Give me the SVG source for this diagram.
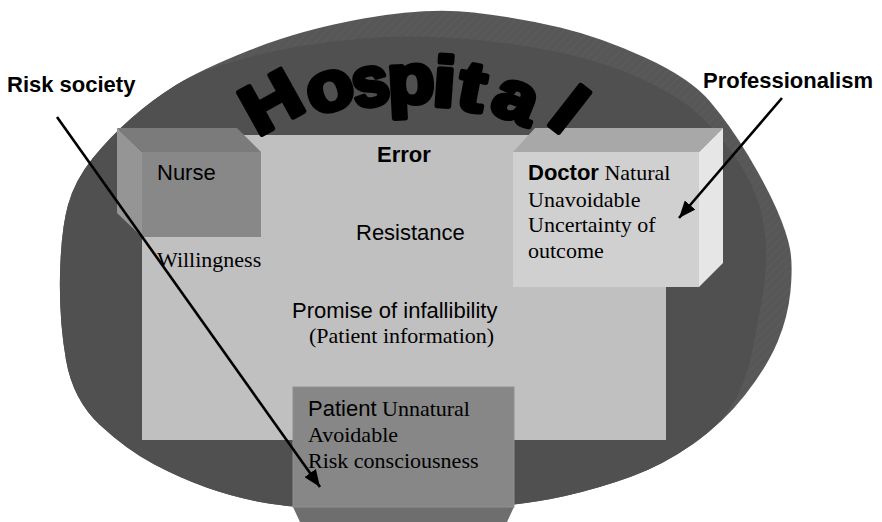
<svg xmlns="http://www.w3.org/2000/svg" width="882" height="522" viewBox="0 0 882 522">
  <style>
    .sans { font-family: "Liberation Sans", Arial, sans-serif; font-size: 22px; fill: #000; }
    .serif { font-family: "Liberation Serif", "Times New Roman", serif; font-size: 22px; fill: #000; }
    .bold { font-weight: bold; }
    .title { font-family: "Liberation Sans", Arial, sans-serif; font-weight: bold; font-size: 70px; fill: #000; stroke: #000; stroke-width: 5; stroke-linejoin: round; text-anchor: middle; }
    .conn { stroke: #000; stroke-width: 2.6; fill: none; marker-end: url(#arrow); }
  </style>
  <defs>
    <pattern id="rimHatch" width="6" height="6" patternUnits="userSpaceOnUse" patternTransform="rotate(45)">
      <rect width="6" height="6" fill="#575757"/>
      <line x1="0" y1="0" x2="0" y2="6" stroke="#5f5f5f" stroke-width="1.2"/>
    </pattern>
    <marker id="arrow" markerUnits="userSpaceOnUse" markerWidth="18" markerHeight="14" refX="17" refY="7" orient="auto">
      <path d="M0,0 L17,7 L0,14 Z" fill="#000"/>
    </marker>
  </defs>

  <!-- hospital disc: rim band plus top face -->
  <g id="hospital-disc">
    <path fill="url(#rimHatch)" d="M 363.5,18.5 Q 427,7 473.5,12.5 Q 520,18 560,27.5 Q 600,37 645,57.5 Q 690,78 710,101.5 Q 730,125 748.5,156 Q 767,187 777,210 Q 787,233 790,249 Q 793,265 790.5,291 Q 788,317 777.5,342 Q 767,367 745,395 Q 723,423 693,444 Q 663,465 631.5,476.5 Q 600,488 565,496 Q 530,504 475,508.5 Q 420,513 356.5,510.5 Q 293,508 263,502.5 Q 233,497 206.5,487.5 Q 180,478 153.5,464 Q 127,450 100,425 Q 73,400 66,360 Q 59,320 60,275 Q 61,230 68,205 Q 75,180 92.5,158.5 Q 110,137 131,118.5 Q 152,100 176,85 Q 200,70 250,50 Q 300,30 363.5,18.5 Z"/>
    <path fill="#505050" d="M 735.5,399 Q 723,423 693,444 Q 663,465 631.5,476.5 Q 600,488 565,496 Q 530,504 475,508.5 Q 420,513 356.5,510.5 Q 293,508 263,502.5 Q 233,497 206.5,487.5 Q 180,478 153.5,464 Q 127,450 100,425 Q 73,400 66,360 Q 59,320 60,275 Q 61,230 68,205 Q 75,180 92.5,158.5 Q 110,137 131,118.5 Q 152,100 176,85 Q 200,70 250,57 Q 300,44 363.5,38.5 Q 427,33 503.5,43 Q 580,53 630,74 Q 680,95 703.5,119 Q 727,143 742,167.5 Q 757,192 762,216 Q 767,240 766,262.5 Q 765,285 760.5,307.5 Q 756,330 752,352.5 Q 748,375 735.5,399 Z"/>
  </g>

  <!-- central error field -->
  <g id="error-field">
    <rect x="142" y="135" width="524" height="305" fill="#c0c0c0"/>
    <text class="sans bold" x="377" y="162">Error</text>
    <text class="sans" x="356" y="240">Resistance</text>
    <text class="sans" x="292" y="318">Promise of infallibility</text>
    <text class="serif" x="309" y="343">(Patient information)</text>
    <text class="serif" x="157" y="267">Willingness</text>
  </g>

  <!-- nurse block -->
  <g id="nurse">
    <polygon points="117,128 142,152 142,237 117,213" fill="#959595"/>
    <polygon points="117,128 237,128 261,152 142,152" fill="#7b7b7b"/>
    <rect x="142" y="152" width="119" height="85" fill="#888888"/>
    <text class="sans" x="157" y="180">Nurse</text>
  </g>

  <!-- doctor block -->
  <g id="doctor">
    <polygon points="535,128 723,128 699,152 513,152" fill="#a8a8a8"/>
    <polygon points="699,152 723,128 723,263 699,287" fill="#e6e6e6"/>
    <rect x="513" y="152" width="186" height="135" fill="#d0d0d0"/>
    <text x="528" y="180"><tspan class="sans bold">Doctor</tspan><tspan class="serif"> Natural</tspan></text>
    <text class="serif" x="528" y="207">Unavoidable</text>
    <text class="serif" x="528" y="232">Uncertainty of</text>
    <text class="serif" x="528" y="258">outcome</text>
  </g>

  <!-- patient block -->
  <g id="patient">
    <polygon points="293,507 514,507 507,522 300,522" fill="#6e6e6e"/>
    <rect x="293" y="387" width="221" height="120" fill="#878787" stroke="#8f8f8f" stroke-width="1"/>
    <text x="308" y="416"><tspan class="sans">Patient</tspan><tspan class="serif"> Unnatural</tspan></text>
    <text class="serif" x="308" y="442">Avoidable</text>
    <text class="serif" x="308" y="468">Risk consciousness</text>
  </g>

  <!-- arched title, one glyph per text so each can tilt along the arch -->
  <g id="hospital-title">
    <text class="title" transform="translate(283,123) rotate(-29) scale(1.15,1)">H</text>
    <text class="title" transform="translate(336,109) rotate(-18) scale(1.1,1)">o</text>
    <text class="title" transform="translate(374,105) rotate(-10) scale(0.95,1)">s</text>
    <text class="title" transform="translate(412,103) rotate(-3) scale(1.1,1)">p</text>
    <text class="title" transform="translate(443,106) rotate(4) scale(1.15,1)">i</text>
    <text class="title" transform="translate(468,110) rotate(11) scale(1.15,1)">t</text>
    <text class="title" transform="translate(508,119) rotate(22) scale(1.1,1)">a</text>
    <text class="title" transform="translate(554,129) rotate(38) scale(1.15,1)">l</text>
  </g>

  <!-- outside influences -->
  <g id="risk-society">
    <text class="sans bold" x="7" y="92">Risk society</text>
  </g>
  <g id="professionalism">
    <text class="sans bold" x="703" y="88">Professionalism</text>
  </g>

  <g id="connectors">
    <line class="conn" x1="57" y1="117" x2="320" y2="487"/>
    <line class="conn" x1="782" y1="98" x2="679" y2="218"/>
  </g>
</svg>
